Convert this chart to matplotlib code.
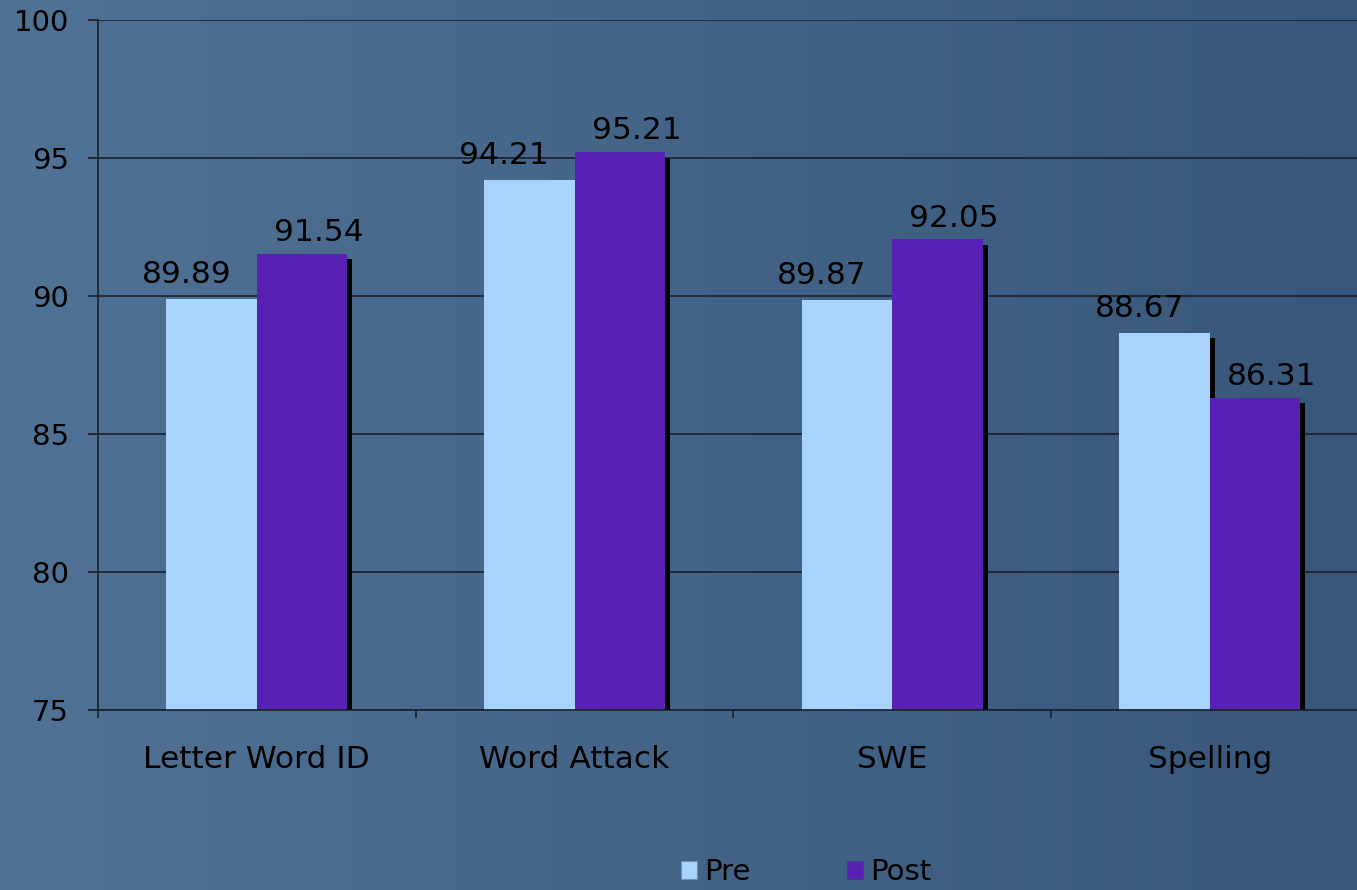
import numpy as np
import matplotlib
matplotlib.use("Agg")
import matplotlib.pyplot as plt
import matplotlib.patheffects as pe
from matplotlib.patches import Patch

# test scores before and after
categories = ["Letter Word ID", "Word Attack", "SWE", "Spelling"]
pre_scores = [89.89, 94.21, 89.87, 88.67]
post_scores = [91.54, 95.21, 92.05, 86.31]
y_ticks = [75, 80, 85, 90, 95, 100]

PRE_COLOR = "#a7d3fd"
POST_COLOR = "#5921b3"
LINE_COLOR = "#18202a"

plt.rcParams['font.family'] = ['DejaVu Sans']

fig = plt.figure(figsize=(13.57, 8.9), dpi=100)

# horizontal blue gradient behind everything
bg = fig.add_axes([0, 0, 1, 1], zorder=-10)
left_rgb = np.array([80, 114, 149]) / 255.0
right_rgb = np.array([56, 87, 122]) / 255.0
t = np.linspace(0, 1, 256)
grad = left_rgb[None, :] * (1 - t[:, None]) + right_rgb[None, :] * t[:, None]
bg.imshow(grad[None, :, :], aspect='auto', extent=[0, 1, 0, 1])
bg.set_axis_off()

ax = fig.add_axes([0.0722, 0.2022, 0.9365, 0.7753])
ax.patch.set_alpha(0)

x = np.arange(len(categories))
width = 0.285
shadow = [pe.SimplePatchShadow(offset=(3.6, -4.0), shadow_rgbFace='black', alpha=1.0),
          pe.Normal()]

pre_bars = ax.bar(x - width / 2, pre_scores, width, color=PRE_COLOR, zorder=3)
post_bars = ax.bar(x + width / 2, post_scores, width, color=POST_COLOR, zorder=4)
for b in list(pre_bars) + list(post_bars):
    b.set_path_effects(shadow)

# value labels
for xi, v in zip(x, pre_scores):
    ax.annotate(f"{v:.2f}", (xi - width / 2, v), xytext=(-18, 7),
                textcoords='offset points', ha='center', va='bottom',
                fontsize=22.5, color='black', zorder=6)
for xi, v in zip(x, post_scores):
    ax.annotate(f"{v:.2f}", (xi + width / 2, v), xytext=(12, 5),
                textcoords='offset points', ha='center', va='bottom',
                fontsize=22.5, color='black', zorder=6)

ax.set_xlim(-0.5, len(categories) - 0.5)
ax.set_ylim(75, 100)
ax.set_yticks(y_ticks)
ax.set_yticklabels([str(v) for v in y_ticks], fontsize=21)
ax.set_xticks(x)
ax.set_xticklabels(categories, fontsize=22.5)
ax.set_xticks(np.arange(-0.5, len(categories), 1.0), minor=True)

ax.tick_params(axis='y', direction='out', length=7, width=1.2,
               color=LINE_COLOR, pad=14, labelcolor='black')
ax.tick_params(axis='x', which='major', length=0, pad=25, labelcolor='black')
ax.tick_params(axis='x', which='minor', direction='out', length=6,
               width=1.2, color=LINE_COLOR)

ax.yaxis.grid(True, color=LINE_COLOR, linewidth=1.2, zorder=1)
ax.set_axisbelow(True)
for side in ['top', 'right']:
    ax.spines[side].set_visible(False)
for side in ['left', 'bottom']:
    ax.spines[side].set_color(LINE_COLOR)
    ax.spines[side].set_linewidth(1.2)
ax.spines['bottom'].set_zorder(5)

handles = [Patch(facecolor=PRE_COLOR, edgecolor='#6f8fb0', linewidth=0.8),
           Patch(facecolor=POST_COLOR, edgecolor='#4a3a8a', linewidth=0.8)]
fig.legend(handles, ["Pre", "Post"], loc='center',
           bbox_to_anchor=(0.594, 0.02), ncol=2, frameon=False,
           fontsize=21, handlelength=0.55, handleheight=0.55,
           handletextpad=0.25, columnspacing=3.3)

fig.savefig("out.png", dpi=100)
